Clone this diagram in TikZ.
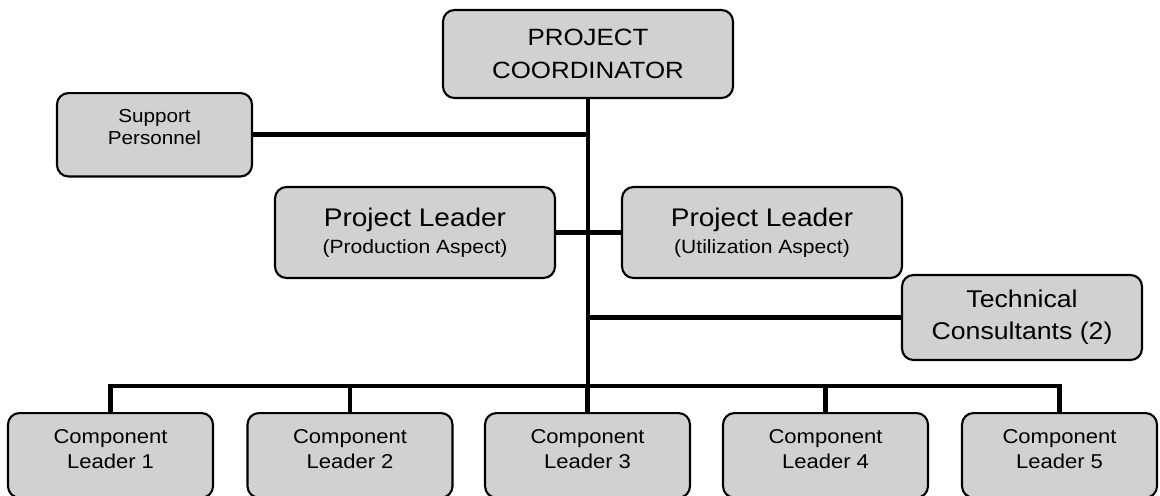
\documentclass[tikz,border=0pt]{standalone}
\usepackage{fontspec}
\setmainfont{Liberation Sans}[FakeStretch=1.1]

\tikzset{
  orgbox/.style={draw, line width=1.2pt, rounded corners=6.5pt, fill=black!18, align=center},
  link/.style={line width=2.8pt}
}

\begin{document}
\begin{tikzpicture}[x=0.02cm, y=-0.02cm]
  \useasboundingbox (0,0) rectangle (1160,495);

  \node (coord) [orgbox, minimum width=5.8cm, minimum height=1.76cm, font=\fontsize{13.4}{19}\selectfont] at (588,54) {PROJECT\\COORDINATOR};
  \node (support) [orgbox, anchor=north, minimum width=3.9cm, inner ysep=9pt, font=\fontsize{10.7}{13}\selectfont] at (154.5,92) {Support\\Personnel\rule[-9pt]{0pt}{9pt}};
  \node (prodlead) [orgbox, minimum width=5.6cm, minimum height=1.82cm, font=\fontsize{14.5}{15.3}\selectfont] at (415,232.5) {Project Leader\\{\fontsize{10.9}{12}\selectfont (Production Aspect)}};
  \node (utillead) [orgbox, minimum width=5.6cm, minimum height=1.82cm, font=\fontsize{14.5}{15.3}\selectfont] at (762,232.5) {Project Leader\\{\fontsize{10.9}{12}\selectfont (Utilization Aspect)}};
  \node (tech) [orgbox, minimum width=4.8cm, minimum height=1.7cm, font=\fontsize{13.8}{18}\selectfont] at (1022,317.5) {Technical\\Consultants (2)};

  \foreach \i/\x/\w in {1/110.5/4.1, 2/350/4.1, 3/587.5/4.1, 4/825.5/4.1, 5/1059.5/3.9}
    \node (comp\i) [orgbox, anchor=north, minimum width=\w cm, inner ysep=9.4pt, font=\fontsize{11.4}{14}\selectfont] at (\x,412) {Component\\Leader \i\rule[-7.4pt]{0pt}{7.4pt}};

  \coordinate (bus) at (0,386);

  \draw[link] (coord.south) -- (coord.south |- bus);
  \draw[link] (support.east) -- (support.east -| coord.south);
  \draw[link] (prodlead.east) -- (utillead.west);
  \draw[link] (tech.west) -- (tech.west -| coord.south);
  \draw[link] (comp1.north) -- (comp1.north |- bus) -- (comp5.north |- bus) -- (comp5.north);
  \foreach \i in {2,3,4}
    \draw[link] (comp\i.north) -- (comp\i.north |- bus);
\end{tikzpicture}
\end{document}
